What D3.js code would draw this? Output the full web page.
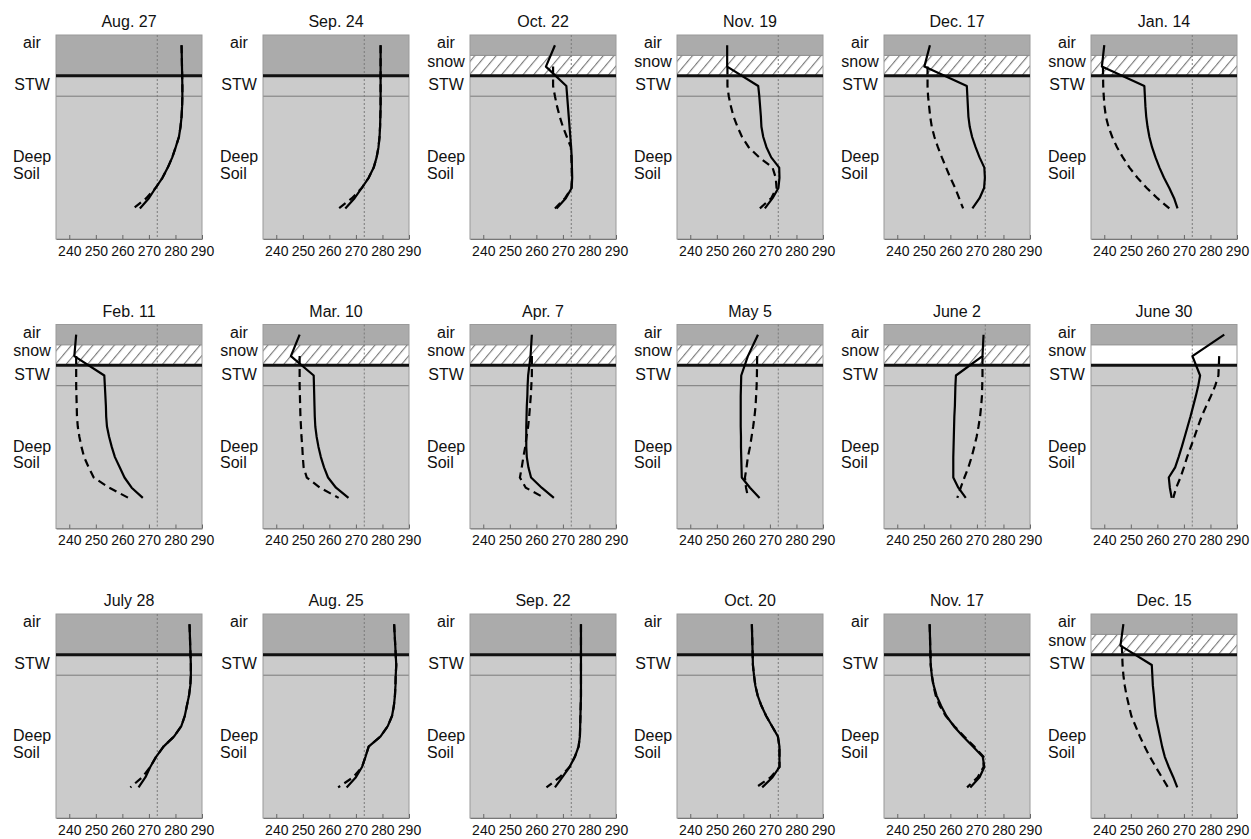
<!DOCTYPE html>
<html><head><meta charset="utf-8">
<script src="https://cdn.jsdelivr.net/npm/d3@7"></script>
<style>body{margin:0;background:#fff} text{font-family:"Liberation Sans",Arial,Helvetica,sans-serif;fill:#111}</style>
</head><body><svg id="chart" width="1251" height="839"></svg>
<script>
// ---- data ----
const panelDates = ["Aug. 27","Sep. 24","Oct. 22","Nov. 19","Dec. 17","Jan. 14",
  "Feb. 11","Mar. 10","Apr. 7","May 5","June 2","June 30",
  "July 28","Aug. 25","Sep. 22","Oct. 20","Nov. 17","Dec. 15"];
// snow layer: none | hatch | plain
const snowCover = ["none","none","hatch","hatch","hatch","hatch",
  "hatch","hatch","hatch","hatch","hatch","plain",
  "none","none","none","none","none","hatch"];
// depth levels (relative layer depth units, 0 = top, 100 = bottom)
const depthLevels = [5, 15.5, 25, 30, 35, 40, 45, 50, 55, 60, 65, 70, 75, 80, 85];
const tempTicks = [240, 250, 260, 270, 280, 290];
const freezingPoint = 273.15;
// solid profile temperatures (K) at depthLevels
const solidProfiles = [
  [282.3,null,282.6,282.6,282.5,282.3,281.9,281.3,280.1,278.8,277.1,275.1,272.5,270,266.6],
  [279.3,null,279.3,279.3,279.3,279.2,279.1,278.9,278.5,277.8,276.7,274.8,272.2,269.5,266],
  [267,263.6,271.3,271.6,271.9,272.2,272.5,272.8,273.1,273.3,273.4,273.5,273.3,271.1,267.6],
  [253.9,253.9,265.6,266,266.3,266.6,266.8,267.5,268.7,270.5,273.5,273.6,273.2,271,268.1],
  [252.3,250.2,266.2,266.4,266.6,266.8,267.3,268.2,269.5,271,272.8,273,272.7,271,268.3],
  [240,239.1,255.1,255.3,255.5,255.8,256.3,257,258,259.3,260.8,262.5,264.5,266.3,267.6],
  [242.6,241.9,253.2,253.4,253.6,253.8,253.9,254.2,255,256,257.2,259,260.8,263.5,267.7],
  [248.8,245.5,254.1,254.2,254.3,254.4,254.5,254.7,255.2,255.9,256.8,258,259.5,262.5,267.2],
  [258.3,257.8,256.9,256.7,256.6,256.4,256.3,256.2,256.2,256.2,256.4,257,258,262,266.6],
  [265.5,261.7,259.2,259.1,259,259,259,259,259.1,259.1,259.2,259.3,259.4,262.5,266.1],
  [272.5,272.1,262.1,261.9,261.8,261.7,261.5,261.4,261.3,261.2,261.1,261.1,261.1,263,265.8],
  [285.2,273.2,276.1,275.4,274.5,273.5,272.5,271.4,270.3,269.2,268,266.7,264.3,264.7,265.4],
  [285.3,null,285.8,285.8,285.6,285.1,284.3,283.5,282.2,279.5,275.5,272.7,270.5,268.7,266.1],
  [284.4,null,285.2,285,284.9,284.7,284.3,283.6,282,279.3,274.8,273.6,272.3,270,266.5],
  [276.8,null,276.8,276.8,276.8,276.8,276.7,276.6,276.5,276.4,275.9,274.5,272.5,269.8,267],
  [263.2,null,263.6,264,264.5,265.4,266.8,268.6,270.8,273,273.6,273.6,273.6,271,267.1],
  [252.2,null,252.6,253,253.7,254.8,256.5,258.5,261.3,264.8,268.5,272.2,272.8,271,267.5],
  [247.2,246.1,257.9,258.1,258.3,258.7,259,259.4,260.2,261,261.8,262.8,264.3,266,267.5]
];
// dashed profile temperatures (K) at depthLevels
const dashedProfiles = [
  [282.3,null,282.6,282.6,282.5,282.3,281.9,281.3,280.1,278.8,277.1,275.1,272.5,269,264.2],
  [279.3,null,279.3,279.3,279.3,279.2,279.1,278.9,278.5,277.8,276.7,274.8,272.2,268.5,263.5],
  [null,266.3,266.3,267,267.8,268.8,270,271.5,273,273.2,273.3,273.4,273.2,270.8,267],
  [null,254,254,254.5,255.3,256.3,257.8,259.5,262,266,271,272.2,272.5,270.5,266.2],
  [null,251.4,251.4,251.6,252,252.4,253,254,255.3,256.8,258.4,260,261.8,263.3,264.8],
  [null,239.5,239.6,239.8,240.1,240.6,241.6,243,244.8,247,249.5,252.5,256,260,264.5],
  [null,242.6,242.6,242.6,242.7,242.8,242.9,243.2,243.8,244.6,245.6,247.3,249.2,255,262.3],
  [null,248.8,248.8,248.8,248.9,249,249.1,249.3,249.5,249.8,250,250.3,251.5,256.5,263.5],
  [null,258.3,258.3,258.1,257.9,257.6,257.3,256.9,256.3,255.8,255.1,254.5,253.8,256,263],
  [null,265.2,265.1,265,264.8,264.6,264.2,263.7,263.1,262.5,261.7,261.2,260.6,261,261.8],
  [null,272.1,272.1,272,271.9,271.6,271.2,270.6,269.9,269,268,266.8,265.3,263.9,262.6],
  [null,283.3,283,281.8,280.2,278.4,276.7,275.3,274,272.6,271.2,270,268.7,267.1,266],
  [285.3,null,285.8,285.8,285.6,285.1,284.3,283.5,282.2,279.5,275.5,272.7,270.5,267.5,263],
  [284.4,null,285.2,285,284.9,284.7,284.3,283.6,282,279.3,274.8,273.6,272.3,269,263.3],
  [276.8,null,276.8,276.8,276.8,276.8,276.7,276.6,276.5,276.4,275.9,274.5,272.5,268.8,263.8],
  [263.2,null,263.6,264,264.5,265.4,266.8,268.6,270.8,273,273.6,273.6,273.6,270.3,264.8],
  [252.2,null,252.6,253,253.6,254.5,256,258.3,261.5,265.2,269,272.5,272.5,270.3,266.3],
  [null,246.6,246.9,247.2,247.7,248.4,249.3,250.2,251.8,253.4,255.2,257.2,259.4,261.7,264]
];
// layer boundaries (depth units)
const snowTopDepth = 10, stwDepth = 20, deepDepth = 30;

// ---- layout ----
const colLeft0 = 56, colStep = 207, rowTop0 = 35, rowStep = 289.5, pw = 146, ph = 204;
const airColor = "#ababab", soilColor = "#cbcbcb";

const svg = d3.select("#chart");
const defs = svg.append("defs");
const pat = defs.append("pattern").attr("id","hatch").attr("patternUnits","userSpaceOnUse")
  .attr("width",8.2).attr("height",10).attr("patternTransform","rotate(40)");
pat.append("rect").attr("width",8.2).attr("height",10).attr("fill","#fff");
pat.append("line").attr("x1",0.6).attr("y1",0).attr("x2",0.6).attr("y2",10).attr("stroke","#6a6a6a").attr("stroke-width",1);

const x = d3.scaleLinear().domain([235, 290]).range([0, pw]);
const y = d3.scaleLinear().domain([0, 100]).range([0, ph]);
const line = d3.line().x(d => x(d[1])).y(d => y(d[0]));

panelDates.forEach((date, i) => {
  const col = i % 6, row = Math.floor(i / 6);
  const g = svg.append("g").attr("transform", `translate(${colLeft0 + col*colStep},${rowTop0 + row*rowStep})`);
  const snow = snowCover[i];
  const hasSnow = snow !== "none";
  // layers
  g.append("rect").attr("x",0).attr("y",y(0)).attr("width",pw).attr("height",y(hasSnow?snowTopDepth:stwDepth)-y(0)).attr("fill",airColor);
  if (hasSnow) {
    g.append("rect").attr("x",0).attr("y",y(snowTopDepth)).attr("width",pw).attr("height",y(stwDepth)-y(snowTopDepth))
      .attr("fill", snow === "hatch" ? "url(#hatch)" : "#fff");
    g.append("line").attr("x1",0).attr("x2",pw).attr("y1",y(snowTopDepth)).attr("y2",y(snowTopDepth)).attr("stroke","#8a8a8a").attr("stroke-width",1);
  }
  g.append("rect").attr("x",0).attr("y",y(stwDepth)).attr("width",pw).attr("height",y(100)-y(stwDepth)).attr("fill",soilColor);
  g.append("line").attr("x1",0).attr("x2",pw).attr("y1",y(deepDepth)).attr("y2",y(deepDepth)).attr("stroke","#7a7a7a").attr("stroke-width",1);
  g.append("rect").attr("x",0).attr("y",0).attr("width",pw).attr("height",ph).attr("fill","none").attr("stroke","#9a9a9a").attr("stroke-width",1);
  g.append("line").attr("x1",x(freezingPoint)).attr("x2",x(freezingPoint)).attr("y1",0).attr("y2",ph)
    .attr("stroke","#7a7a7a").attr("stroke-width",1).attr("stroke-dasharray","2,2");
  g.append("line").attr("x1",0).attr("x2",pw).attr("y1",y(stwDepth)).attr("y2",y(stwDepth)).attr("stroke","#111").attr("stroke-width",3);

  // axis
  const ax = g.append("g").attr("transform",`translate(0,${ph})`)
    .call(d3.axisBottom(x).tickValues(tempTicks).tickSize(-4).tickSizeOuter(0).tickPadding(7).tickFormat(d3.format("d")));
  ax.select(".domain").attr("stroke","#777");
  ax.selectAll(".tick line").attr("stroke","#666");
  ax.selectAll(".tick text").attr("font-size",14).attr("fill","#111").attr("font-family","'Liberation Sans',Arial,sans-serif");

  // title
  g.append("text").attr("x",pw/2).attr("y",-8).attr("text-anchor","middle").attr("font-size",16).text(date);

  // layer labels
  const lab = (t, yy, anchor, xx) => g.append("text").attr("x",xx).attr("y",yy).attr("text-anchor",anchor).attr("font-size",16).text(t);
  lab("air", 13, "middle", -24);
  if (hasSnow) lab("snow", 31.5, "middle", -24);
  lab("STW", 55, "middle", -24);
  lab("Deep", 127, "start", -43);
  lab("Soil", 143.5, "start", -43);

  // profiles
  const solid = depthLevels.map((d,k)=>[d, solidProfiles[i][k]]).filter(p=>p[1]!=null);
  const dashed = depthLevels.map((d,k)=>[d, dashedProfiles[i][k]]).filter(p=>p[1]!=null);
  g.append("path").attr("d", line(solid)).attr("fill","none").attr("stroke","#000").attr("stroke-width",2.2).attr("stroke-linejoin","round");
  g.append("path").attr("d", line(dashed)).attr("fill","none").attr("stroke","#000").attr("stroke-width",2.2).attr("stroke-dasharray","8,5");
});
</script></body></html>
